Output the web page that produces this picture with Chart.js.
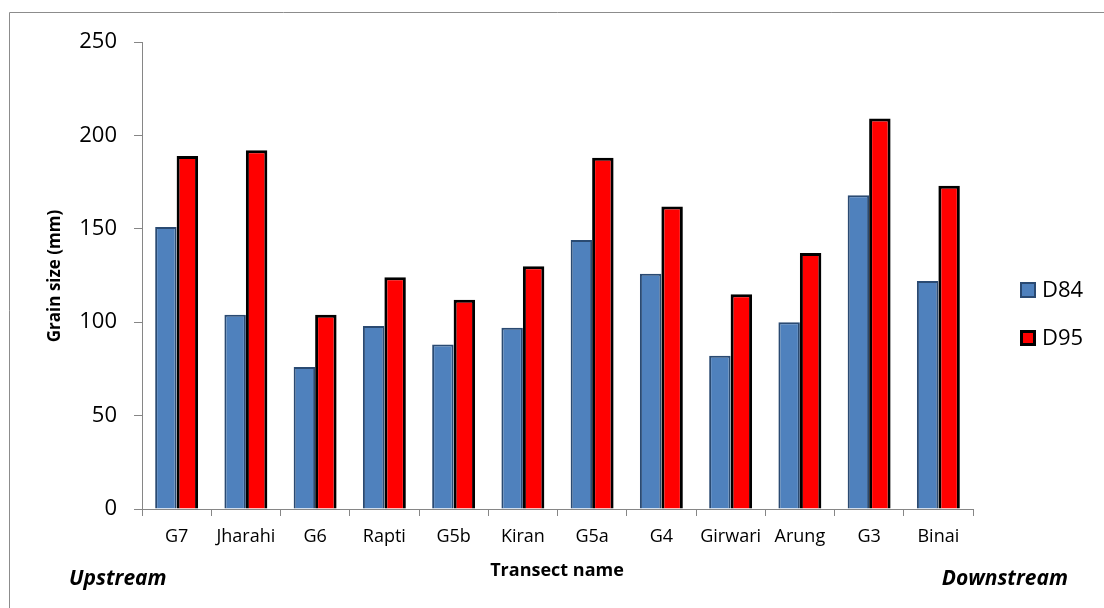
<!DOCTYPE html>
<html>
<head>
<meta charset="utf-8">
<script src="https://cdn.jsdelivr.net/npm/chart.js@4.4.0/dist/chart.umd.min.js"></script>
<style>
  html, body { margin: 0; padding: 0; background: #ffffff; }
  #wrap { width: 1104px; height: 608px; position: relative; }
  canvas { display: block; }
</style>
</head>
<body>
<div id="wrap"><canvas id="c" width="1104" height="608"></canvas></div>
<script>
const categories = ["G7", "Jharahi", "G6", "Rapti", "G5b", "Kiran", "G5a", "G4", "Girwari", "Arung", "G3", "Binai"];
const d84 = [151, 104, 76, 98, 88, 97, 144, 126, 82, 100, 168, 122];
const d95 = [189, 192, 104, 124, 112, 130, 188, 162, 115, 137, 209, 173];
const seriesNames = ["D84", "D95"];
const yTicks = [0, 50, 100, 150, 200, 250];
const yTitle = "Grain size (mm)";
const xTitle = "Transect name";
const leftNote = "Upstream";
const rightNote = "Downstream";

const FONT = "'Open Sans', 'Liberation Sans', sans-serif";
const AXIS_GRAY = "#868686";

const extras = {
  id: 'extras',
  afterDraw(chart) {
    const ctx = chart.ctx;
    const area = chart.chartArea;
    ctx.save();
    // outer frame (left and top edges visible)
    ctx.strokeStyle = "#8c8c8c";
    ctx.lineWidth = 1;
    ctx.beginPath();
    ctx.moveTo(9.5, 620);
    ctx.lineTo(9.5, 12.5);
    ctx.lineTo(1110, 12.5);
    ctx.stroke();

    // y axis title
    ctx.fillStyle = "#000";
    ctx.font = "bold 17px " + FONT;
    ctx.textAlign = "center";
    ctx.textBaseline = "middle";
    ctx.save();
    ctx.translate(55, 276);
    ctx.rotate(-Math.PI / 2);
    ctx.fillText(yTitle, 0, 0);
    ctx.restore();

    // x axis title
    ctx.font = "bold 18px " + FONT;
    ctx.fillText(xTitle, 557, 571);

    // upstream / downstream
    ctx.font = "italic bold 21px " + FONT;
    ctx.textAlign = "left";
    ctx.fillText(leftNote, 69, 579);
    ctx.textAlign = "right";
    ctx.fillText(rightNote, 1068, 579);

    // legend
    const ds = chart.data.datasets;
    const ys = [290, 338];
    ctx.textAlign = "left";
    ctx.font = "22px " + FONT;
    ds.forEach((d, i) => {
      const y = ys[i];
      ctx.fillStyle = d.backgroundColor;
      ctx.fillRect(1020, y - 8, 16, 16);
      ctx.strokeStyle = d.borderColor;
      ctx.lineWidth = d.borderWidth;
      ctx.strokeRect(1020 + d.borderWidth / 2, y - 8 + d.borderWidth / 2, 16 - d.borderWidth, 16 - d.borderWidth);
      ctx.fillStyle = "#000";
      ctx.textBaseline = "middle";
      ctx.fillText(d.label, 1042, y + 1);
    });
    ctx.restore();
  }
};

new Chart(document.getElementById('c'), {
  type: 'bar',
  data: {
    labels: categories,
    datasets: [
      {
        label: seriesNames[0],
        data: d84,
        backgroundColor: "#4f81bd",
        borderColor: "#2a4a72",
        borderWidth: 2,
        categoryPercentage: 0.62,
        barPercentage: 1.0
      },
      {
        label: seriesNames[1],
        data: d95,
        backgroundColor: "#ff0000",
        borderColor: "#000000",
        borderWidth: 3,
        categoryPercentage: 0.62,
        barPercentage: 1.0
      }
    ]
  },
  options: {
    responsive: false,
    animation: false,
    devicePixelRatio: 1,
    layout: { padding: { left: 0, right: 131, top: 42, bottom: 0 } },
    plugins: {
      legend: { display: false },
      title: { display: false },
      tooltip: { enabled: false }
    },
    scales: {
      x: {
        afterFit(scale) { scale.height = 99; },
        grid: {
          offset: true,
          drawOnChartArea: false,
          tickLength: 7,
          color: AXIS_GRAY
        },
        border: { color: AXIS_GRAY, width: 1 },
        ticks: {
          color: "#000",
          font: { family: FONT, size: 18 },
          padding: 10,
          maxRotation: 0,
          autoSkip: false
        }
      },
      y: {
        min: 0,
        max: 250,
        afterFit(scale) { scale.width = 142; },
        afterBuildTicks(scale) { scale.ticks = yTicks.map(v => ({ value: v })); },
        grid: {
          drawOnChartArea: false,
          tickLength: 8,
          color: AXIS_GRAY
        },
        border: { color: AXIS_GRAY, width: 1 },
        ticks: {
          color: "#000",
          font: { family: FONT, size: 22 },
          padding: 17
        }
      }
    }
  },
  plugins: [extras]
});
</script>
</body>
</html>
